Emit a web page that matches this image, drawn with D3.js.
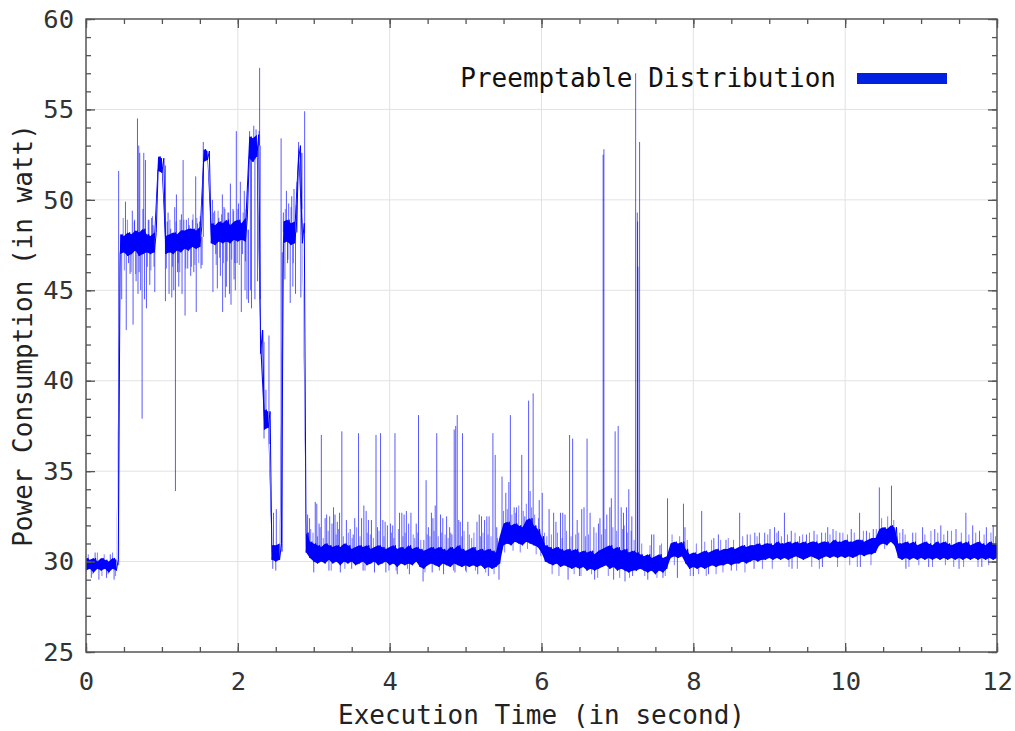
<!DOCTYPE html>
<html lang="en">
<head>
<meta charset="UTF-8">
<title>Power Consumption</title>
<script src="https://d3js.org/d3.v7.min.js"></script>
<style>
  body { margin: 0; background: #fff; }
  text { font-family: "DejaVu Sans Mono", monospace; }
</style>
</head>
<body>
<script>
// power samples, one every 0.05 s: lower and upper edge of the dense band
var sampleStep = 0.05;
var sampleLo = [
  29.5, 29.6, 29.4, 29.6, 29.5, 29.6, 29.4, 29.6, 29.5,           // 0.00 - 0.40
  47.0, 47.1, 46.9, 47.0, 47.2, 46.9, 47.0, 47.1, 47.0, 47.1,     // 0.45 - 0.90
  51.6, 51.5,                                                     // 0.95 - 1.00
  47.0, 47.1, 47.0, 47.2, 47.1, 47.3, 47.2, 47.4, 47.3, 47.4,     // 1.05 - 1.50
  52.1, 52.2,                                                     // 1.55 - 1.60
  47.6, 47.5, 47.7, 47.6, 47.7, 47.6, 47.8, 47.7, 47.8, 47.7,     // 1.65 - 2.10
  52.3, 52.1, 52.4, 41.5, 37.3, 37.4,                             // 2.15 - 2.40
  30.1, 30.0, 30.1,                                               // 2.45 - 2.55
  47.6, 47.7, 47.5, 47.6, 52.2, 47.6,                             // 2.60 - 2.85
  30.5, 30.2, 30.0, 29.9, 30.0, 29.9, 30.1, 29.9, 30.0, 29.8,     // 2.90 - 3.35
  30.0, 29.9, 30.0, 29.8, 29.9, 30.0, 29.8, 29.9, 30.0, 29.8,     // 3.40 - 3.85
  29.9, 30.0, 29.8, 29.9, 29.7, 29.9, 29.8, 29.9, 29.8, 30.0,     // 3.90 - 4.35
  29.7, 29.6, 29.8, 29.9, 29.8, 29.7, 29.9, 29.8, 29.7, 29.9,     // 4.40 - 4.85
  29.8, 29.7, 29.8, 29.7, 29.8, 29.7, 29.8, 29.6, 29.7, 29.6,     // 4.90 - 5.35
  29.7, 29.9, 30.9, 31.0, 30.9, 31.1, 31.0, 30.9, 31.1, 31.0,     // 5.40 - 5.85
  30.9, 30.8, 30.5, 30.0, 29.9, 29.8, 29.9, 29.7, 29.8, 29.7,     // 5.90 - 6.35
  29.6, 29.7, 29.6, 29.7, 29.5, 29.6, 29.5, 29.6, 29.7, 29.8,     // 6.40 - 6.85
  29.6, 29.7, 29.5, 29.6, 29.5, 29.4, 29.5, 29.5, 29.6, 29.5,     // 6.90 - 7.35
  29.4, 29.5, 29.3, 29.5, 29.4, 29.6, 30.2, 30.3, 30.2, 30.3,     // 7.40 - 7.85
  29.9, 29.6, 29.7, 29.6, 29.7, 29.6, 29.7, 29.8, 29.7, 29.8,     // 7.90 - 8.35
  29.8, 29.9, 29.8, 29.9, 29.9, 30.0, 29.9, 30.0, 30.1, 30.0,     // 8.40 - 8.85
  30.1, 30.1, 30.2, 30.1, 30.2, 30.1, 30.2, 30.1, 30.2, 30.3,     // 8.90 - 9.35
  30.2, 30.1, 30.2, 30.3, 30.2, 30.1, 30.2, 30.3, 30.2, 30.3,     // 9.40 - 9.85
  30.2, 30.3, 30.2, 30.3, 30.2, 30.3, 30.4, 30.3, 30.4, 30.4,     // 9.90 - 10.35
  30.5, 30.9, 31.0, 30.9, 31.1, 30.9, 30.2, 30.1, 30.2, 30.1,     // 10.40 - 10.85
  30.2, 30.1, 30.2, 30.1, 30.2, 30.1, 30.2, 30.1, 30.2, 30.1,     // 10.90 - 11.35
  30.2, 30.1, 30.2, 30.1, 30.2, 30.1, 30.2, 30.1, 30.2, 30.1,     // 11.40 - 11.85
  30.2, 30.1, 30.2                                                // 11.90 - 12.00
];
var sampleHi = [
  30.2, 30.1, 30.2, 30.0, 30.2, 30.1, 30.0, 30.2, 30.1,
  48.1, 48.0, 48.2, 48.1, 48.3, 48.2, 48.4, 48.1, 48.0, 48.2,
  52.4, 52.3,
  48.0, 48.1, 48.2, 48.1, 48.3, 48.3, 48.4, 48.4, 48.3, 48.5,
  52.8, 52.7,
  48.7, 48.6, 48.8, 48.7, 48.9, 48.6, 48.8, 48.9, 48.7, 49.0,
  53.5, 53.4, 53.6, 42.8, 38.4, 38.3,
  30.9, 30.9, 31.0,
  48.8, 48.9, 48.7, 48.8, 53.0, 48.7,
  31.6, 31.1, 31.0, 30.9, 30.8, 31.0, 30.9, 30.8, 30.9, 30.8,
  31.0, 30.9, 30.7, 30.8, 30.9, 30.8, 30.9, 30.7, 30.8, 30.9,
  30.8, 30.7, 30.8, 30.9, 30.7, 30.8, 30.7, 30.9, 30.7, 30.8,
  30.7, 30.6, 30.7, 30.8, 30.7, 30.8, 30.7, 30.6, 30.8, 30.7,
  30.9, 30.7, 30.6, 30.7, 30.8, 30.6, 30.7, 30.6, 30.7, 30.6,
  30.5, 31.4, 32.1, 32.2, 32.0, 32.1, 32.0, 31.9, 32.3, 32.4,
  32.0, 31.8, 31.4, 30.9, 30.8, 30.7, 30.8, 30.7, 30.6, 30.7,
  30.6, 30.7, 30.5, 30.6, 30.5, 30.6, 30.4, 30.6, 30.7, 30.8,
  30.9, 30.7, 30.8, 30.6, 30.7, 30.5, 30.6, 30.5, 30.4, 30.3,
  30.4, 30.2, 30.3, 30.4, 30.2, 30.3, 31.0, 31.1, 31.0, 31.1,
  30.7, 30.4, 30.5, 30.4, 30.5, 30.6, 30.5, 30.6, 30.7, 30.6,
  30.7, 30.7, 30.8, 30.7, 30.8, 30.9, 30.8, 30.9, 30.9, 31.0,
  30.9, 31.0, 31.0, 30.9, 31.1, 31.0, 31.0, 31.1, 31.0, 31.1,
  31.0, 31.1, 31.0, 31.1, 31.1, 31.0, 31.1, 31.1, 31.0, 31.2,
  31.1, 31.1, 31.2, 31.1, 31.1, 31.2, 31.2, 31.1, 31.2, 31.3,
  31.3, 31.8, 31.9, 31.8, 32.0, 31.9, 31.0, 31.0, 31.1, 31.0,
  31.1, 30.9, 31.0, 31.1, 31.0, 30.9, 31.1, 31.0, 31.1, 31.0,
  30.9, 31.0, 31.1, 31.0, 31.1, 30.9, 31.0, 31.1, 31.0, 30.9,
  31.1, 31.0, 30.9
];

// single readings that leave the band (spikes and dips)
var spikeT = [
  0.07, 0.12, 0.17, 0.27, 0.32, 0.37, 0.43,
  0.47, 0.52, 0.53, 0.56, 0.58, 0.61, 0.62, 0.64, 0.66, 0.678, 0.685, 0.695, 0.70, 0.708, 0.72,
  0.739, 0.75, 0.761, 0.77, 0.783, 0.796, 0.82, 0.84, 0.865, 0.884, 0.906,
  1.046, 1.07, 1.081, 1.094, 1.116, 1.13, 1.156, 1.169, 1.178, 1.191, 1.205, 1.222, 1.24,
  1.257, 1.265, 1.279, 1.305, 1.322, 1.34, 1.36, 1.379, 1.401, 1.42, 1.445, 1.452, 1.47,
  1.498, 1.515, 1.529, 1.545,
  1.665, 1.672, 1.695, 1.71, 1.73, 1.75, 1.77, 1.796, 1.80, 1.818, 1.835, 1.849, 1.87,
  1.89, 1.902, 1.91, 1.936, 1.95, 1.967, 1.98, 1.99, 2.01, 2.033, 2.046, 2.06, 2.085,
  2.095, 2.11, 2.12,
  2.14, 2.155, 2.165, 2.18, 2.21, 2.225, 2.24, 2.26, 2.28, 2.287, 2.295,
  2.33, 2.345, 2.37, 2.41, 2.42, 2.46, 2.47, 2.50, 2.507,
  2.57, 2.585, 2.60, 2.62, 2.64, 2.655, 2.67, 2.69, 2.71, 2.725, 2.74, 2.76, 2.78, 2.80,
  2.83, 2.845, 2.88,
  2.919, 2.945, 3.00, 3.02, 3.04, 3.07, 3.10, 3.15, 3.17, 3.20, 3.21, 3.24, 3.26, 3.28,
  3.31, 3.34, 3.35, 3.37, 3.43, 3.48, 3.50, 3.52, 3.54, 3.59, 3.63, 3.65, 3.66, 3.69,
  3.72, 3.76, 3.80, 3.82, 3.84, 3.88, 3.91, 3.94, 3.95, 3.97, 4.01, 4.04, 4.07, 4.10,
  4.13, 4.16, 4.19, 4.22, 4.25, 4.26, 4.28, 4.35, 4.38, 4.44, 4.45, 4.48, 4.51, 4.55,
  4.56, 4.57, 4.60, 4.62, 4.67, 4.70, 4.71, 4.75, 4.79, 4.82, 4.85, 4.86, 4.87, 4.89,
  4.91, 4.93, 4.96, 5.00, 5.03, 5.15, 5.16, 5.18, 5.21, 5.25, 5.28, 5.30, 5.31, 5.36,
  5.39, 5.41, 5.44,
  5.48, 5.53, 5.57, 5.59, 5.64, 5.67, 5.74, 5.78, 5.83, 5.85, 5.89, 5.97, 6.01,
  6.10, 6.16, 6.19, 6.25, 6.28, 6.31, 6.35, 6.37, 6.41, 6.47, 6.50, 6.53, 6.56,
  6.60, 6.64, 6.69, 6.70, 6.75, 6.77, 6.812, 6.822,
  6.86, 6.90, 6.92, 6.95, 6.97, 7.01, 7.05, 7.08, 7.10, 7.12, 7.15, 7.19, 7.20,
  7.24, 7.262, 7.266, 7.27, 7.292,
  7.40, 7.45, 7.48, 7.56, 7.60, 7.66, 7.79, 7.87, 7.89,
  8.00, 8.11, 8.20, 8.27, 8.33, 8.43, 8.50, 8.61, 8.71, 8.80, 8.81, 8.87, 8.94,
  9.01, 9.07, 9.12, 9.20, 9.29, 9.30, 9.40, 9.49, 9.59, 9.69, 9.70, 9.77, 9.84, 9.93,
  10.08, 10.19, 10.20, 10.28, 10.37, 10.45, 10.61, 10.76, 10.80, 10.89,
  11.02, 11.10, 11.18, 11.26, 11.35, 11.46, 11.50, 11.59, 11.68, 11.77, 11.80, 11.86, 11.95
];
var spikeV = [
  29.1, 30.5, 29.0, 29.1, 30.4, 29.0, 51.6,
  44.5, 49.9, 42.8, 46.5, 45.9, 49.4, 43.1, 48.9, 45.5, 54.5, 44.8, 53.0, 46.0, 52.6, 45.0,
  37.9, 49.5, 52.6, 44.5, 52.2, 44.0, 48.9, 45.3, 49.0, 48.6, 44.9,
  44.4, 48.8, 49.3, 44.8, 48.4, 44.6, 45.0, 49.6, 33.9, 50.3, 46.0, 45.2, 48.9,
  49.2, 44.8, 52.2, 43.6, 48.9, 46.2, 48.6, 45.8, 48.9, 46.0, 51.3, 43.8, 48.7,
  48.8, 46.2, 46.4, 53.2,
  50.0, 44.9, 49.4, 47.0, 45.1, 49.0, 45.8, 50.3, 43.8, 49.6, 44.6, 45.2, 49.3,
  44.8, 50.9, 44.2, 49.5, 45.6, 45.0, 53.8, 46.5, 49.8, 51.0, 43.8, 47.0, 50.5,
  45.0, 49.5, 44.5,
  44.3, 53.8, 45.0, 44.0, 54.1, 44.5, 53.9, 45.5, 53.8, 57.3, 44.5,
  42.8, 36.8, 39.5, 42.5, 36.5, 29.6, 32.7, 29.5, 32.9,
  53.4, 47.1, 49.3, 45.6, 50.5, 46.5, 49.8, 44.3, 50.2, 45.2, 50.6, 44.8, 51.0, 53.2,
  44.6, 49.5, 54.9,
  32.6, 32.4, 29.4, 33.3, 33.2, 32.1, 37.0, 32.4, 32.6, 29.5, 32.5, 32.1, 33.0, 32.6,
  32.2, 32.7, 29.4, 37.2, 32.3, 31.8, 29.6, 31.5, 32.4, 37.1, 32.4, 29.5, 33.1, 32.8,
  32.3, 32.3, 29.4, 37.0, 31.9, 37.1, 32.3, 32.2, 29.4, 32.0, 32.1, 32.0, 37.1, 29.3,
  32.7, 32.7, 32.6, 32.8, 32.1, 29.3, 32.7, 32.1, 38.1, 28.9, 31.2, 34.5, 31.9, 32.7,
  29.4, 32.4, 33.1, 37.1, 32.6, 32.4, 29.3, 32.5, 31.9, 31.5, 37.3, 29.4, 37.5, 38.1,
  32.3, 32.2, 37.1, 29.5, 32.2, 32.2, 29.3, 32.6, 32.5, 32.3, 32.5, 29.2, 32.5, 37.1,
  35.9, 31.9, 29.0,
  34.7, 33.8, 34.4, 38.1, 33.0, 33.0, 35.9, 32.5, 38.9, 33.9, 39.3, 33.4, 33.8,
  32.9, 32.7, 32.2, 32.7, 32.7, 32.6, 29.0, 37.0, 36.8, 32.3, 29.2, 32.9, 33.0,
  36.8, 32.7, 31.9, 29.0, 32.1, 32.4, 52.5, 52.8,
  32.6, 33.0, 33.5, 29.0, 37.2, 37.5, 33.0, 32.7, 28.9, 33.0, 34.0, 32.5, 29.2,
  57.0, 49.3, 48.8, 46.3, 53.2,
  29.0, 31.5, 31.5, 30.9, 29.1, 33.5, 29.1, 33.2, 31.9,
  29.2, 32.8, 29.3, 31.3, 31.5, 31.2, 29.5, 32.7, 31.5, 29.6, 31.6, 31.6, 31.6,
  31.8, 31.9, 31.7, 32.7, 31.7, 29.6, 31.4, 31.5, 31.7, 31.6, 29.7, 31.9, 31.8, 31.6,
  31.8, 32.7, 29.7, 31.7, 31.8, 34.1, 34.2, 31.8, 29.6, 31.6,
  31.9, 29.7, 31.8, 32.0, 31.7, 31.8, 29.6, 32.7, 32.0, 31.7, 29.7, 31.9, 32.0
];

// smaller excursions just outside the band (the light fringe)
var fringeT = [
  0.03, 0.09, 0.15, 0.21, 0.24, 0.29, 0.35, 0.39,
  0.49, 0.505, 0.545, 0.595, 0.635, 0.655, 0.81, 0.83, 0.855, 0.875, 0.895,
  1.06, 1.105, 1.14, 1.185, 1.215, 1.235, 1.29, 1.315, 1.35, 1.39, 1.41, 1.435, 1.46, 1.485, 1.505,
  1.68, 1.715, 1.74, 1.76, 1.785, 1.81, 1.83, 1.86, 1.88, 1.92, 1.945, 1.96, 2.00, 2.02, 2.07, 2.10,
  2.625, 2.66, 2.70, 2.73, 2.77,
  2.96, 2.99, 3.05, 3.085, 3.125, 3.19, 3.23, 3.295, 3.325, 3.39, 3.41, 3.455, 3.505, 3.565,
  3.61, 3.675, 3.705, 3.745, 3.785, 3.86, 3.925, 3.99, 4.025, 4.055, 4.085, 4.115, 4.175, 4.205,
  4.235, 4.31, 4.33, 4.37, 4.41, 4.465, 4.495, 4.53, 4.585, 4.64, 4.655, 4.685, 4.73, 4.77,
  4.805, 4.84, 4.95, 4.98, 5.01, 5.05, 5.08, 5.11, 5.13, 5.195, 5.23, 5.265, 5.295, 5.335,
  5.375, 5.42,
  5.50, 5.515, 5.55, 5.61, 5.625, 5.66, 5.70, 5.72, 5.76, 5.80, 5.815, 5.87, 5.91, 5.93, 5.96, 5.99,
  6.04, 6.07, 6.13, 6.14, 6.21, 6.23, 6.27, 6.33, 6.39, 6.43, 6.45, 6.49, 6.52, 6.58, 6.62,
  6.66, 6.72, 6.74, 6.79, 6.84, 6.88, 6.94, 6.99, 7.03, 7.07, 7.09, 7.13, 7.16, 7.18, 7.22,
  7.32, 7.36, 7.43, 7.52, 7.58, 7.63, 7.72, 7.75, 7.82, 7.92, 7.96, 8.04, 8.07, 8.15, 8.17,
  8.24, 8.30, 8.36, 8.39, 8.46, 8.53, 8.57, 8.65, 8.68, 8.75, 8.84, 8.91, 8.98, 9.04, 9.10,
  9.16, 9.24, 9.26, 9.34, 9.37, 9.44, 9.53, 9.56, 9.63, 9.66, 9.74, 9.80, 9.88, 9.90, 9.97,
  10.03, 10.06, 10.12, 10.16, 10.24, 10.32, 10.34, 10.41, 10.48, 10.52, 10.56, 10.64, 10.68,
  10.72, 10.79, 10.84, 10.93, 10.97, 11.05, 11.13, 11.15, 11.22, 11.30, 11.32, 11.40, 11.43,
  11.53, 11.56, 11.63, 11.72, 11.75, 11.83, 11.89, 11.92, 11.98
];
var fringeV = [
  30.4, 29.3, 30.5, 29.2, 30.4, 29.3, 30.5, 29.2,
  49.0, 46.1, 48.9, 46.0, 48.8, 45.9, 46.3, 48.9, 46.1, 49.1, 46.3,
  46.2, 48.9, 46.3, 48.8, 46.5, 46.0, 48.9, 46.2, 49.0, 46.3, 49.2, 46.4, 49.0, 46.5, 49.1,
  49.3, 46.4, 49.4, 46.8, 49.2, 46.5, 49.5, 46.6, 49.3, 46.7, 49.4, 46.5, 49.5, 46.4, 49.3, 46.6,
  49.5, 46.7, 49.6, 46.5, 49.7,
  31.8, 31.6, 31.4, 31.9, 31.3, 31.7, 29.5, 31.5, 31.8, 31.4, 29.6, 31.6, 31.3, 31.9,
  31.4, 29.5, 31.6, 31.5, 31.3, 31.7, 31.4, 29.5, 31.6, 31.3, 29.5, 31.8, 31.4, 31.6,
  29.6, 31.5, 31.3, 31.6, 31.2, 29.4, 31.5, 31.4, 31.7, 31.4, 29.5, 31.6, 31.5, 31.3,
  31.6, 29.5, 31.4, 31.7, 29.4, 31.5, 31.3, 31.6, 29.5, 31.4, 31.6, 29.4, 31.5, 31.4,
  29.3, 31.3,
  32.8, 30.5, 32.9, 32.6, 30.6, 32.7, 33.1, 30.5, 32.8, 33.2, 30.7, 33.0, 32.6, 30.4, 32.4, 30.3,
  31.6, 31.4, 31.5, 29.3, 31.6, 29.2, 31.3, 31.7, 31.4, 29.3, 31.5, 31.6, 29.2, 31.4, 31.5,
  29.3, 31.6, 29.1, 31.5, 31.8, 29.2, 31.9, 31.7, 29.1, 31.8, 32.0, 31.6, 29.1, 31.7, 31.2,
  31.0, 29.2, 30.9, 29.1, 31.0, 29.2, 31.5, 29.8, 31.4, 31.2, 29.2, 31.0, 29.3, 31.1, 29.2,
  31.2, 29.3, 31.2, 29.4, 31.3, 31.2, 29.5, 31.4, 29.4, 31.5, 31.4, 29.6, 31.5, 29.6, 31.6,
  31.4, 31.5, 29.7, 31.6, 29.6, 31.5, 31.6, 29.7, 31.5, 29.6, 31.6, 31.5, 31.7, 29.7, 31.6,
  31.5, 29.8, 31.6, 29.7, 31.7, 31.6, 29.8, 31.8, 32.4, 30.7, 32.5, 32.3, 30.6,
  31.6, 31.5, 29.7, 31.6, 29.8, 31.5, 31.7, 29.7, 31.6, 31.5, 29.8, 31.7, 29.7,
  31.6, 29.7, 31.5, 31.6, 29.7, 31.5, 29.8, 31.6, 31.4
];

var xTicks = [0, 2, 4, 6, 8, 10, 12];
var yTicks = [25, 30, 35, 40, 45, 50, 55, 60];
var seriesName = 'Preemptable Distribution';

var width = 1015, height = 731;
var margin = {left: 86, right: 18, top: 19, bottom: 79};
var x0 = margin.left, x1 = width - margin.right;
var y0 = margin.top, y1 = height - margin.bottom;

var svg = d3.select('body').append('svg')
    .attr('width', width)
    .attr('height', height);

var x = d3.scaleLinear().domain([0, 12]).range([x0, x1]);
var y = d3.scaleLinear().domain([25, 60]).range([y1, y0]);

// grid
svg.append('g').selectAll('line')
    .data(xTicks.slice(1, -1))
    .enter().append('line')
    .attr('x1', function(d) { return x(d); })
    .attr('x2', function(d) { return x(d); })
    .attr('y1', y0).attr('y2', y1)
    .attr('stroke', '#e2e2e2').attr('stroke-width', 1);
svg.append('g').selectAll('line')
    .data(yTicks.slice(1, -1))
    .enter().append('line')
    .attr('y1', function(d) { return y(d); })
    .attr('y2', function(d) { return y(d); })
    .attr('x1', x0).attr('x2', x1)
    .attr('stroke', '#e2e2e2').attr('stroke-width', 1);

svg.append('clipPath').attr('id', 'plotclip')
    .append('rect').attr('x', x0).attr('y', y0).attr('width', x1 - x0).attr('height', y1 - y0);

var plot = svg.append('g').attr('clip-path', 'url(#plotclip)');

// series band: filled between the edges, plus a zigzag through them
var samples = sampleLo.map(function(v, i) {
    return {t: i * sampleStep, lo: v, hi: sampleHi[i]};
});

function bandMid(t) {
    var i = Math.min(Math.floor(t / sampleStep + 1e-9), samples.length - 1);
    return (samples[i].lo + samples[i].hi) / 2;
}

// fringe first, so the band sits over it
plot.append('g').selectAll('line')
    .data(fringeT)
    .enter().append('line')
    .attr('x1', function(t) { return x(t); })
    .attr('x2', function(t) { return x(t); })
    .attr('y1', function(t) { return y(bandMid(t)); })
    .attr('y2', function(t, i) { return y(fringeV[i]); })
    .attr('stroke', '#0000ff')
    .attr('stroke-opacity', 0.5)
    .attr('stroke-width', 1);

plot.append('path')
    .datum(samples)
    .attr('fill', '#0000ff')
    .attr('d', d3.area()
        .x(function(d) { return x(d.t); })
        .y0(function(d) { return y(d.lo); })
        .y1(function(d) { return y(d.hi); }));

var zig = [];
samples.forEach(function(d) {
    zig.push([d.t, d.lo]);
    zig.push([d.t + sampleStep / 2, d.hi]);
});
plot.append('path')
    .datum(zig)
    .attr('fill', 'none')
    .attr('stroke', '#0000ff')
    .attr('stroke-width', 1)
    .attr('d', d3.line()
        .x(function(d) { return x(d[0]); })
        .y(function(d) { return y(d[1]); }));

// spikes: thin vertical strokes from the band to the reading
plot.append('g').selectAll('line')
    .data(spikeT)
    .enter().append('line')
    .attr('x1', function(t) { return x(t); })
    .attr('x2', function(t) { return x(t); })
    .attr('y1', function(t) { return y(bandMid(t)); })
    .attr('y2', function(t, i) { return y(spikeV[i]); })
    .attr('stroke', '#0000ff')
    .attr('stroke-opacity', 0.65)
    .attr('stroke-width', 1);

// axes: ticks pointing inward on all four sides
var minorX = d3.range(0, 12.01, 0.5);
var minorY = d3.range(25, 60.01, 1);

function styleAxis(g) {
    g.select('.domain').remove();
    g.selectAll('.tick line').attr('stroke', '#555').attr('stroke-width', 1.3);
    g.selectAll('.tick text')
        .attr('fill', '#333')
        .style('font-family', '"DejaVu Sans Mono", monospace')
        .style('font-size', '25.5px');
}

svg.append('g').attr('transform', 'translate(0,' + y1 + ')')
    .call(d3.axisBottom(x).tickValues(minorX).tickSize(-5).tickFormat('')).call(styleAxis);
svg.append('g').attr('transform', 'translate(0,' + y1 + ')')
    .call(d3.axisBottom(x).tickValues(xTicks).tickSize(-9).tickPadding(20).tickFormat(d3.format('d'))).call(styleAxis);
svg.append('g').attr('transform', 'translate(0,' + y0 + ')')
    .call(d3.axisTop(x).tickValues(minorX).tickSize(-5).tickFormat('')).call(styleAxis);
svg.append('g').attr('transform', 'translate(0,' + y0 + ')')
    .call(d3.axisTop(x).tickValues(xTicks).tickSize(-9).tickFormat('')).call(styleAxis);

svg.append('g').attr('transform', 'translate(' + x0 + ',0)')
    .call(d3.axisLeft(y).tickValues(minorY).tickSize(-5).tickFormat('')).call(styleAxis);
svg.append('g').attr('transform', 'translate(' + x0 + ',0)')
    .call(d3.axisLeft(y).tickValues(yTicks).tickSize(-9).tickPadding(12).tickFormat(d3.format('d'))).call(styleAxis);
svg.append('g').attr('transform', 'translate(' + x1 + ',0)')
    .call(d3.axisRight(y).tickValues(minorY).tickSize(-5).tickFormat('')).call(styleAxis);
svg.append('g').attr('transform', 'translate(' + x1 + ',0)')
    .call(d3.axisRight(y).tickValues(yTicks).tickSize(-9).tickFormat('')).call(styleAxis);

// frame
svg.append('rect')
    .attr('x', x0).attr('y', y0)
    .attr('width', x1 - x0).attr('height', y1 - y0)
    .attr('fill', 'none').attr('stroke', '#555').attr('stroke-width', 1.5);

// axis titles
svg.append('text')
    .attr('x', (x0 + x1) / 2).attr('y', 724)
    .attr('text-anchor', 'middle')
    .attr('fill', '#222')
    .style('font-size', '26px')
    .text('Execution Time (in second)');
svg.append('text')
    .attr('transform', 'translate(32,' + (y0 + y1) / 2 + ') rotate(-90)')
    .attr('text-anchor', 'middle')
    .attr('fill', '#222')
    .style('font-size', '26px')
    .text('Power Consumption (in watt)');

// legend
svg.append('text')
    .attr('x', 836).attr('y', 87)
    .attr('text-anchor', 'end')
    .attr('fill', '#111')
    .style('font-size', '26px')
    .text(seriesName);
svg.append('rect')
    .attr('x', 857).attr('y', 73)
    .attr('width', 90).attr('height', 11)
    .attr('fill', '#0022e0');
</script>
</body>
</html>
